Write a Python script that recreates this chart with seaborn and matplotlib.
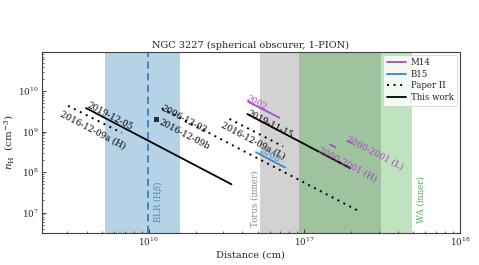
import numpy as np
import pandas as pd
import matplotlib
matplotlib.use("Agg")
import matplotlib.pyplot as plt
from matplotlib.lines import Line2D
import matplotlib.transforms as mtransforms
import seaborn as sns

# ---------------- data ----------------
# This work (solid black)
tw_names = ["2019-12-05", "2019-11-15"]
tw_r = [[3.95e15, 3.4e16], [4.3e16, 1.96e17]]
tw_n = [[3.8e9, 5.0e7], [2.7e9, 1.26e8]]
tw_point_name = "2016-12-09b"
tw_point_r = [1.12e16]
tw_point_n = [2.0e9]

# Paper II (dotted black)
p2_names = ["2016-12-09a (H)", "2006-12-03", "2016-12-09a (L)"]
p2_r = [[3.03e15, 6.7e15], [1.21e16, 2.27e17], [3.3e16, 7.3e16]]
p2_n = [[4.3e9, 9.3e8], [3.75e9, 1.06e7], [2.05e9, 4.3e8]]

# M14 (purple)
m14_names = ["2002", "2000-2001 (H)", "2000-2001 (L)"]
m14_r = [[4.34e16, 6.9e16], [1.46e17, 1.58e17], [1.9e17, 2.02e17]]
m14_n = [[5.45e9, 2.2e9], [4.8e8, 4.1e8], [5.9e8, 5.2e8]]

# B15 (blue)
b15_names = ["2008"]
b15_r = [[4.88e16, 7.5e16]]
b15_n = [[3.1e8, 1.3e8]]

# label anchor positions (r, n)
label_texts = ["2019-12-05", "2016-12-09a (H)", "2006-12-03", "2016-12-09b",
               "2016-12-09a (L)", "2002", "2019-11-15", "2008",
               "2000-2001 (H)", "2000-2001 (L)"]
label_r = [4.0e15, 2.69e15, 1.19e16, 1.16e16, 2.91e16, 4.17e16, 4.27e16, 5.08e16,
           1.22e17, 1.85e17]
label_n = [4.0e9, 2.52e9, 3.34e9, 1.53e9, 1.30e9, 5.9e9, 2.62e9, 3.13e8,
           3.26e8, 6.09e8]
label_cols = ["black", "black", "black", "black", "black", "#a64fc0", "black",
              "#3a86cc", "#a64fc0", "#a64fc0"]

# regions
blr_range = [5.2e15, 1.58e16]
blr_line = 9.9e15
torus_range = [5.2e16, 3.1e17]
wa_range = [9.3e16, 4.9e17]

# ---------------- style ----------------
sns.set_style("ticks", {"xtick.direction": "in", "ytick.direction": "in"})
plt.rcParams["font.family"] = ["DejaVu Serif"]
plt.rcParams["mathtext.fontset"] = "dejavuserif"

fig = plt.figure(figsize=(4.79, 2.65), dpi=100)
ax = fig.add_axes([41.7 / 479, 1 - 232.7 / 265, (460 - 41.7) / 479, (232.7 - 52.3) / 265])
ax.set_xscale("log")
ax.set_yscale("log")

purple = "#a64fc0"
blue = "#3a86cc"

# regions
ax.axvspan(*blr_range, color="tab:blue", alpha=0.33, lw=0, zorder=0)
ax.axvline(blr_line, color="#3a7dc0", ls=(0, (4, 2.5)), lw=1.3, zorder=1)
ax.axvspan(*torus_range, color="gray", alpha=0.35, lw=0, zorder=0)
ax.axvspan(*wa_range, color="tab:green", alpha=0.3, lw=0, zorder=0)

lw = 1.3
dot = (0, (1, 2.4))
for r, n in zip(tw_r, tw_n):
    sns.lineplot(x=r, y=n, ax=ax, color="black", lw=lw, sort=False, estimator=None)
for r, n in zip(p2_r, p2_n):
    sns.lineplot(x=r, y=n, ax=ax, color="black", lw=1.4, ls=dot,
                 sort=False, estimator=None)
for r, n in zip(m14_r, m14_n):
    sns.lineplot(x=r, y=n, ax=ax, color=purple, lw=lw, sort=False, estimator=None)
for r, n in zip(b15_r, b15_n):
    sns.lineplot(x=r, y=n, ax=ax, color=blue, lw=lw, sort=False, estimator=None)
sns.scatterplot(x=tw_point_r, y=tw_point_n, ax=ax, marker="s", s=14,
                color="#1c2e4a", edgecolor="none", zorder=5)

# rotated labels along slope -2 lines
fs = 6.2
ax.set_xlim(2.05e15, 1e18)
ax.set_ylim(3.2e6, 9e10)
fig.canvas.draw()
p0 = ax.transData.transform((1e16, 1e9))
p1 = ax.transData.transform((1e17, 1e7))
ang = np.degrees(np.arctan2(p1[1] - p0[1], p1[0] - p0[0]))
for t, r, n, c in zip(label_texts, label_r, label_n, label_cols):
    ax.text(r, n, t, rotation=ang, rotation_mode="anchor", ha="left",
            va="baseline", fontsize=fs, color=c, zorder=6)

trans = mtransforms.blended_transform_factory(ax.transData, ax.transAxes)
ax.text(1.14e16, 0.054, r"BLR (H$\beta$)", rotation=90, transform=trans,
        ha="center", va="bottom", fontsize=fs, color="#4a8cc8")
ax.text(4.79e16, 0.032, "Torus (inner)", rotation=90, transform=trans,
        ha="center", va="bottom", fontsize=fs, color="#8a8a8a")
ax.text(5.64e17, 0.055, "WA (inner)", rotation=90, transform=trans,
        ha="center", va="bottom", fontsize=fs, color="#55b055")

ax.set_title("NGC 3227 (spherical obscurer, 1-PION)", fontsize=7, pad=3)
ax.set_xlabel("Distance (cm)", fontsize=7, labelpad=2)
ax.set_ylabel(r"$n_{\rm H}$  (cm$^{-3}$)", fontsize=7.5, labelpad=2)
ax.tick_params(axis="both", which="major", labelsize=6.3, length=3, width=0.6,
               direction="in", pad=2)
ax.tick_params(axis="both", which="minor", length=1.5, width=0.5, direction="in")
for s in ax.spines.values():
    s.set_linewidth(0.8)
    s.set_color("0.25")

handles = [Line2D([], [], color=purple, lw=lw),
           Line2D([], [], color=blue, lw=lw),
           Line2D([], [], color="black", lw=1.4, ls=dot),
           Line2D([], [], color="black", lw=lw)]
leg = ax.legend(handles, ["M14", "B15", "Paper II", "This work"], loc="upper right",
                fontsize=6.2, frameon=True, handlelength=2.2, borderpad=0.4,
                labelspacing=0.3, handletextpad=0.6, borderaxespad=0.3)
leg.get_frame().set_edgecolor("0.8")
leg.get_frame().set_linewidth(0.6)

fig.savefig("out.png", dpi=100)
